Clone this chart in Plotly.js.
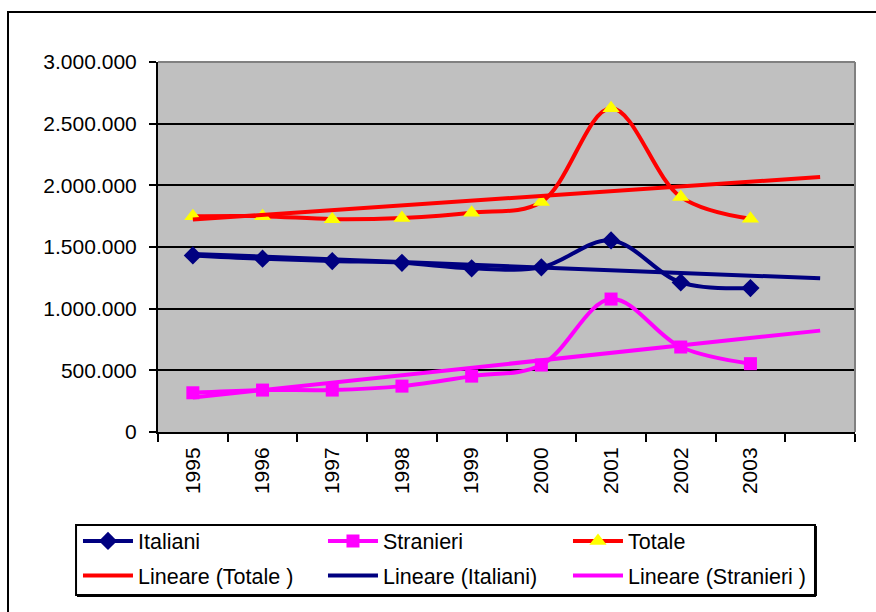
<!DOCTYPE html>
<html>
<head>
<meta charset="utf-8">
<script src="https://cdn.plot.ly/plotly-3.0.1.min.js"></script>
<style>
  html, body { margin: 0; padding: 0; background: #fff; }
  #chart { width: 876px; height: 612px; }
</style>
</head>
<body>
<div id="chart"></div>
<script>
// ─────────────────────────────
// DATI
// ─────────────────────────────
const anni = ['1995', '1996', '1997', '1998', '1999', '2000', '2001', '2002', '2003'];
const vuoto = ' ';   // categoria extra: la tendenza va avanti di un periodo

const italiani  = [1432000, 1405000, 1386000, 1372000, 1327000, 1335000, 1553000, 1213000, 1167000];
const stranieri = [ 318000,  340000,  340000,  372000,  453000,  543000, 1078000,  689000,  554000];
const totale    = [1750000, 1750000, 1726000, 1736000, 1778000, 1865000, 2625000, 1906000, 1729000];

// tendenze lineari (inizio 1995, fine periodo extra)
const trendX = ['1995', vuoto];
const trendTotale    = [1722000, 2068000];
const trendItaliani  = [1444000, 1246000];
const trendStranieri = [ 280000,  822000];

const BLU = '#000080';
const MAGENTA = '#FF00FF';
const ROSSO = '#FF0000';
const GIALLO = '#FFFF00';

// ─────────────────────────────
// TRACCE
// ─────────────────────────────
function serie(nome, y, colore, simbolo, dim, coloreMarker) {
  return {
    x: anni, y, name: nome,
    type: 'scatter', mode: 'lines+markers',
    legend: 'legend',
    line: { color: colore, width: 4, shape: 'spline', smoothing: 1 },
    marker: { symbol: simbolo, size: dim, color: coloreMarker || colore, line: { width: 0 } }
  };
}

function tendenza(nome, y, colore) {
  return {
    x: trendX, y, name: nome,
    type: 'scatter', mode: 'lines',
    legend: 'legend2',
    line: { color: colore, width: 4 }
  };
}

const traces = [
  serie('Italiani', italiani, BLU, 'diamond', 14),
  serie('Stranieri', stranieri, MAGENTA, 'square', 13),
  serie('Totale', totale, ROSSO, 'triangle-up', 15, GIALLO),
  tendenza('Lineare (Totale )', trendTotale, ROSSO),
  tendenza('Lineare (Italiani)', trendItaliani, BLU),
  tendenza('Lineare (Stranieri )', trendStranieri, MAGENTA)
];

// ─────────────────────────────
// LAYOUT
// ─────────────────────────────
const font = { family: 'Liberation Sans, Arial, sans-serif', size: 21, color: '#000' };
const fontLegenda = { ...font, size: 21.5 };

function legenda(y) {
  return {
    orientation: 'h',
    xref: 'paper', yref: 'paper',
    x: -0.1148, y,
    xanchor: 'left', yanchor: 'top',
    bgcolor: 'rgba(0,0,0,0)',
    borderwidth: 0,
    itemwidth: 50,
    entrywidth: 180,
    font: fontLegenda,
    traceorder: 'normal'
  };
}

const layout = {
  width: 876,
  height: 612,
  margin: { l: 158, r: 21, t: 62, b: 180, autoexpand: false },
  paper_bgcolor: '#fff',
  plot_bgcolor: '#C0C0C0',
  font,
  separators: ',.',
  showlegend: true,
  xaxis: {
    type: 'category',
    categoryorder: 'array',
    categoryarray: [...anni, vuoto],
    range: [-0.5, 9.5],
    tickson: 'boundaries',
    ticks: 'outside',
    ticklen: 8,
    tickwidth: 2,
    tickcolor: '#000',
    tickangle: -90,
    ticklabelstandoff: 5,
    showgrid: false,
    showline: true,
    linecolor: '#000',
    linewidth: 2,
    tickfont: font,
    fixedrange: true
  },
  yaxis: {
    range: [0, 3000000],
    dtick: 500000,
    tickformat: ',d',
    ticks: 'outside',
    ticklen: 7,
    tickwidth: 2,
    tickcolor: '#000',
    ticklabelstandoff: 8,
    showgrid: true,
    gridcolor: '#000',
    gridwidth: 2,
    zeroline: false,
    showline: true,
    linecolor: '#000',
    linewidth: 2,
    tickfont: font,
    fixedrange: true
  },
  legend: legenda(-0.2391),
  legend2: legenda(-0.3324),
  shapes: [
    // bordo grigio dell'area del grafico (alto e destra)
    { type: 'line', xref: 'paper', yref: 'paper', x0: 0, x1: 1, y0: 1, y1: 1,
      line: { color: '#808080', width: 2 }, layer: 'above' },
    { type: 'line', xref: 'paper', yref: 'paper', x0: 1, x1: 1, y0: 0, y1: 1,
      line: { color: '#808080', width: 2 }, layer: 'above' },
    // riquadro della legenda
    { type: 'rect', xref: 'paper', yref: 'paper', x0: -0.1176, x1: 0.9426, y0: -0.4405, y1: -0.2514,
      line: { color: '#000', width: 2 }, fillcolor: '#fff', layer: 'below' },
    { type: 'line', xref: 'paper', yref: 'paper', x0: -0.1162, x1: 0.9440, y0: -0.4432, y1: -0.4432,
      line: { color: '#000', width: 2 }, layer: 'below' },
    { type: 'line', xref: 'paper', yref: 'paper', x0: 0.9440, x1: 0.9440, y0: -0.4432, y1: -0.2541,
      line: { color: '#000', width: 2 }, layer: 'below' },
    // cornice esterna
    { type: 'rect', xref: 'paper', yref: 'paper', x0: -0.2152, x1: 1.1, y0: -0.6, y1: 1.1351,
      line: { color: '#000', width: 2 }, fillcolor: 'rgba(0,0,0,0)', layer: 'below' }
  ]
};

Plotly.newPlot('chart', traces, layout, { staticPlot: true, displayModeBar: false });
</script>
</body>
</html>
